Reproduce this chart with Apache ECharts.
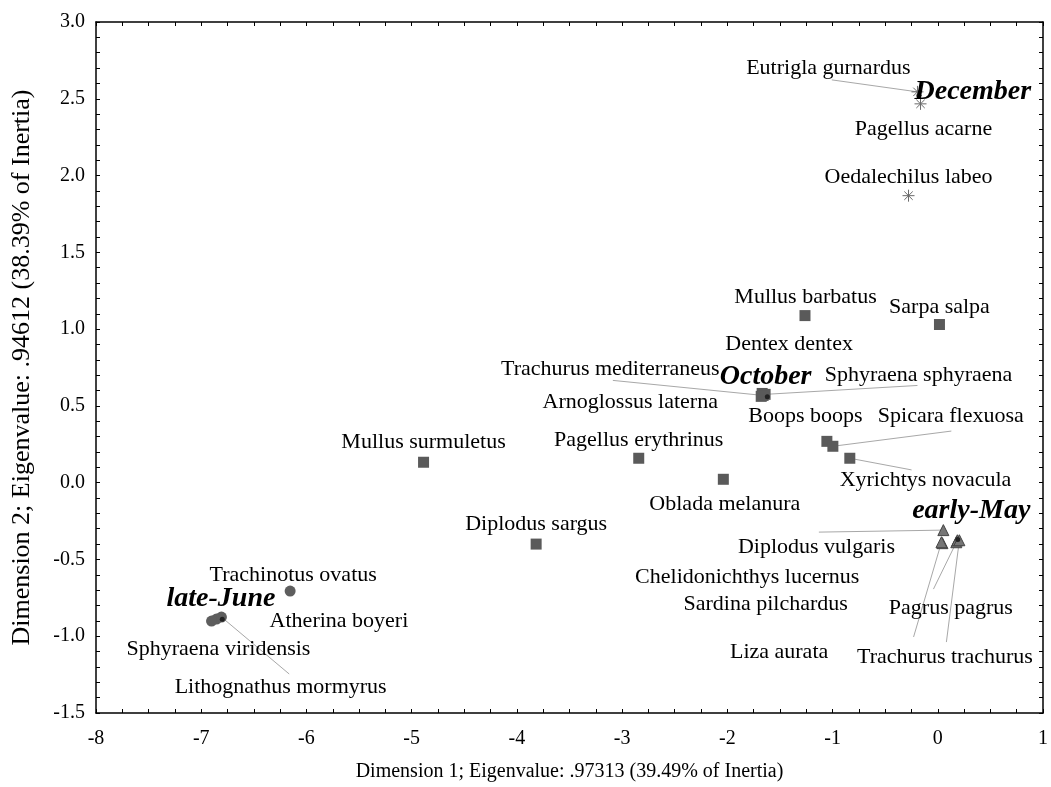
<!DOCTYPE html>
<html>
<head>
<meta charset="utf-8">
<script src="https://cdn.jsdelivr.net/npm/echarts@6/dist/echarts.min.js"></script>
<style>html,body{margin:0;padding:0;background:#fff}#c{width:1051px;height:787px}</style>
</head>
<body>
<div id="c"></div>
<script>
// ---- data ----
const xTicks = [-8, -7, -6, -5, -4, -3, -2, -1, 0, 1];
const yTicks = [-1.5, -1.0, -0.5, 0.0, 0.5, 1.0, 1.5, 2.0, 2.5, 3.0];

const decNames = ['Eutrigla gurnardus', 'Pagellus acarne', 'Oedalechilus labeo'];
const decDim1 = [-0.193, -0.164, -0.278];
const decDim2 = [2.545, 2.467, 1.869];

const octNames = ['Mullus barbatus', 'Sarpa salpa', 'Dentex dentex', 'Trachurus mediterraneus', 'Sphyraena sphyraena',
  'Arnoglossus laterna', 'Boops boops', 'Spicara flexuosa', 'Xyrichtys novacula', 'Mullus surmuletus',
  'Pagellus erythrinus', 'Oblada melanura', 'Diplodus sargus'];
const octDim1 = [-1.262, 0.016, -1.669, -1.660, -1.641, -1.678, -1.054, -0.997, -0.836, -4.887, -2.842, -2.038, -3.817];
const octDim2 = [1.088, 1.030, 0.581, 0.568, 0.575, 0.562, 0.269, 0.237, 0.159, 0.133, 0.159, 0.022, -0.400];

const mayNames = ['Diplodus vulgaris', 'Chelidonichthys lucernus', 'Sardina pilchardus', 'Pagrus pagrus', 'Liza aurata', 'Trachurus trachurus'];
const mayDim1 = [0.053, 0.044, 0.176, 0.186, 0.035, 0.205];
const mayDim2 = [-0.309, -0.394, -0.388, -0.375, -0.388, -0.375];

const junNames = ['Trachinotus ovatus', 'Atherina boyeri', 'Sphyraena viridensis', 'Lithognathus mormyrus'];
const junDim1 = [-6.155, -6.855, -6.902, -6.808];
const junDim2 = [-0.706, -0.888, -0.901, -0.875];

const monthNames = ['December', 'October', 'early-May', 'late-June'];
const monthDim1 = [-0.18, -1.62, 0.19, -6.80];
const monthDim2 = [2.52, 0.56, -0.37, -0.89];

// label anchors (text centres) in data units
const labelNames = ['Eutrigla gurnardus', 'Pagellus acarne', 'Oedalechilus labeo', 'Mullus barbatus', 'Sarpa salpa',
  'Dentex dentex', 'Trachurus mediterraneus', 'Sphyraena sphyraena', 'Arnoglossus laterna', 'Boops boops',
  'Spicara flexuosa', 'Mullus surmuletus', 'Pagellus erythrinus', 'Xyrichtys novacula', 'Oblada melanura',
  'Diplodus sargus', 'Diplodus vulgaris', 'Chelidonichthys lucernus', 'Sardina pilchardus', 'Pagrus pagrus',
  'Liza aurata', 'Trachurus trachurus', 'Trachinotus ovatus', 'Atherina boyeri', 'Sphyraena viridensis',
  'Lithognathus mormyrus'];
const labelDim1 = [-1.040, -0.136, -0.278, -1.257, 0.016, -1.413, -3.112, -0.183, -2.923, -1.257,
  0.124, -4.887, -2.842, -0.117, -2.024, -3.817, -1.153, -1.811, -1.636, 0.124,
  -1.508, 0.068, -6.126, -5.691, -6.836, -6.245];
const labelDim2 = [2.701, 2.304, 1.986, 1.205, 1.140, 0.900, 0.737, 0.698, 0.523, 0.432,
  0.432, 0.263, 0.276, 0.016, -0.140, -0.270, -0.420, -0.615, -0.791, -0.817,
  -1.103, -1.135, -0.602, -0.901, -1.083, -1.330];

const monthLabelDim1 = [0.333, -1.636, 0.318, -6.812];
const monthLabelDim2 = [2.545, 0.692, -0.186, -0.758];

// leader lines: start (near label) -> species point
const leaderNames = ['Eutrigla gurnardus', 'Trachurus mediterraneus', 'Sphyraena sphyraena', 'Spicara flexuosa',
  'Xyrichtys novacula', 'Diplodus vulgaris', 'Liza aurata', 'Pagrus pagrus', 'Trachurus trachurus', 'Lithognathus mormyrus'];
const leaderDim1 = [-1.007, -3.088, -0.193, 0.129, -0.249, -1.130, -0.230, -0.041, 0.082, -6.164];
const leaderDim2 = [2.623, 0.666, 0.633, 0.336, 0.083, -0.322, -1.005, -0.693, -1.038, -1.246];

// ---- build ----
const allNames = decNames.concat(octNames, mayNames, junNames);
const allDim1 = decDim1.concat(octDim1, mayDim1, junDim1);
const allDim2 = decDim2.concat(octDim2, mayDim2, junDim2);
function pointOf(name) { const i = allNames.indexOf(name); return [allDim1[i], allDim2[i]]; }
function zip(a, b, n) { return a.map((v, i) => ({ value: [v, b[i]], name: n ? n[i] : '' })); }

const FONT = '"Liberation Serif", "Times New Roman", serif';
const asterisk = 'path://M5,0 L5,10 M0,5 L10,5 M1.5,1.5 L8.5,8.5 M8.5,1.5 L1.5,8.5';

const axisCommon = {
  axisLine: { show: true, onZero: false, lineStyle: { color: '#000', width: 1.5 } },
  axisTick: { show: true, inside: true, length: 4, lineStyle: { color: '#000', width: 1 } },
  minorTick: { show: true, length: 4, lineStyle: { color: '#000', width: 1 } },
  splitLine: { show: false },
  minorSplitLine: { show: false }
};

const xBase = Object.assign({ type: 'value', min: xTicks[0], max: xTicks[xTicks.length - 1], interval: 1 }, axisCommon);
const yBase = Object.assign({ type: 'value', min: yTicks[0], max: yTicks[yTicks.length - 1], interval: 0.5 }, axisCommon);

const txt = { color: '#000', fontFamily: FONT, opacity: 1 };

const option = {
  animation: false,
  backgroundColor: '#fff',
  grid: { left: 96, right: 4, top: 22, bottom: 73, containLabel: false },
  xAxis: [
    Object.assign({}, xBase, {
      position: 'bottom',
      minorTick: Object.assign({}, axisCommon.minorTick, { splitNumber: 4 }),
      axisLabel: Object.assign({}, txt, { fontSize: 20, margin: 16 }),
      name: 'Dimension 1; Eigenvalue: .97313 (39.49% of Inertia)',
      nameLocation: 'middle', nameGap: 49,
      nameTextStyle: Object.assign({}, txt, { fontSize: 20 })
    }),
    Object.assign({}, xBase, {
      position: 'top',
      minorTick: Object.assign({}, axisCommon.minorTick, { splitNumber: 4 }),
      axisLabel: { show: false }
    })
  ],
  yAxis: [
    Object.assign({}, yBase, {
      position: 'left',
      minorTick: Object.assign({}, axisCommon.minorTick, { splitNumber: 5 }),
      axisLabel: Object.assign({}, txt, { fontSize: 20, margin: 11, formatter: v => v.toFixed(1) }),
      name: 'Dimension 2; Eigenvalue: .94612 (38.39% of Inertia)',
      nameLocation: 'middle', nameGap: 61, nameRotate: 90,
      nameTextStyle: Object.assign({}, txt, { fontSize: 26 })
    }),
    Object.assign({}, yBase, {
      position: 'right',
      minorTick: Object.assign({}, axisCommon.minorTick, { splitNumber: 5 }),
      axisLabel: { show: false }
    })
  ],
  series: [
    {
      type: 'lines', coordinateSystem: 'cartesian2d', z: 1,
      lineStyle: { color: '#a8a8a8', width: 1, opacity: 1 },
      symbol: 'none',
      data: leaderNames.map((n, i) => ({ coords: [[leaderDim1[i], leaderDim2[i]], pointOf(n)] }))
    },
    {
      type: 'scatter', name: 'December', z: 3, symbol: asterisk, symbolSize: 12,
      itemStyle: { color: 'rgba(0,0,0,0)', borderColor: '#6a6a6a', borderWidth: 1, opacity: 1 },
      data: zip(decDim1, decDim2, decNames)
    },
    {
      type: 'scatter', name: 'October', z: 3, symbol: 'rect', symbolSize: 11,
      itemStyle: { color: '#5a5a5a', opacity: 1 },
      data: zip(octDim1, octDim2, octNames)
    },
    {
      type: 'scatter', name: 'early-May', z: 3, symbol: 'triangle', symbolSize: 11,
      itemStyle: { color: '#767676', borderColor: '#444', borderWidth: 1, opacity: 1 },
      data: zip(mayDim1, mayDim2, mayNames)
    },
    {
      type: 'scatter', name: 'late-June', z: 3, symbol: 'circle', symbolSize: 11,
      itemStyle: { color: '#5e5e5e', opacity: 1 },
      data: zip(junDim1, junDim2, junNames)
    },
    {
      type: 'scatter', name: 'months', z: 4, symbol: 'circle', symbolSize: 5,
      itemStyle: { color: '#222', opacity: 1 },
      data: zip(monthDim1, monthDim2, monthNames)
    },
    {
      type: 'scatter', name: 'labels', z: 5, symbol: 'circle', symbolSize: 1,
      itemStyle: { color: 'rgba(0,0,0,0)', opacity: 1 },
      label: Object.assign({ show: true, position: 'inside', formatter: p => p.name, fontSize: 22 }, txt),
      data: zip(labelDim1, labelDim2, labelNames)
    },
    {
      type: 'scatter', name: 'monthLabels', z: 5, symbol: 'circle', symbolSize: 1,
      itemStyle: { color: 'rgba(0,0,0,0)', opacity: 1 },
      label: Object.assign({ show: true, position: 'inside', formatter: p => p.name,
        fontSize: 28, fontStyle: 'italic', fontWeight: 'bold' }, txt),
      data: zip(monthLabelDim1, monthLabelDim2, monthNames)
    }
  ]
};

const chart = echarts.init(document.getElementById('c'), null, { renderer: 'canvas' });
chart.setOption(option);
</script>
</body>
</html>
